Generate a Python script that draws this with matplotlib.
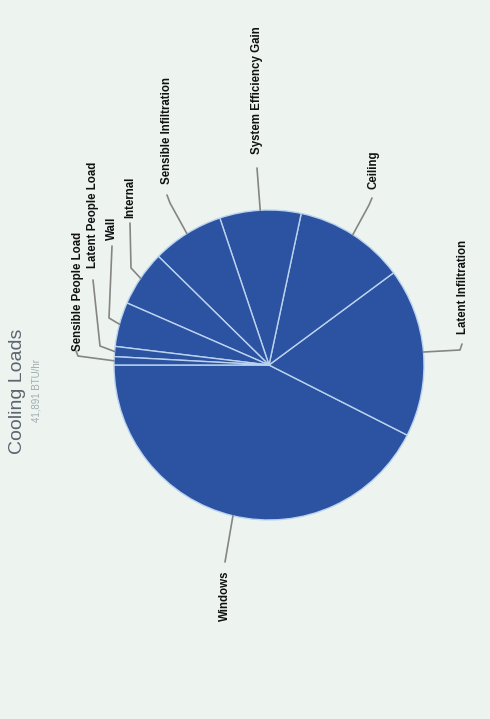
import matplotlib
matplotlib.use('Agg')
import matplotlib.pyplot as plt
from matplotlib import font_manager
import numpy as np

# ---- data ----
categories = ['Windows', 'Latent Infiltration', 'Ceiling', 'System Efficiency Gain',
              'Sensible Infiltration', 'Internal', 'Wall', 'Latent People Load',
              'Sensible People Load']
loads = [17815, 7378, 4829, 3549, 3142, 2432, 1943, 442, 361]
title = 'Cooling Loads'
subtitle = '41,891 BTU/hr'

# ---- layout (image pixel coords) ----
W, H = 490, 719
label_layout = {
    'Windows': ((225, 596), [(225, 562)]),
    'Latent Infiltration': ((463, 287), [(462, 344), (460, 350)]),
    'Ceiling': ((373, 170), [(372, 198), (369, 205)]),
    'System Efficiency Gain': ((257, 90), [(257, 168)]),
    'Sensible Infiltration': ((167, 131), [(167, 195), (170, 203)]),
    'Internal': ((130, 197), [(130, 223), (131, 268)]),
    'Wall': ((112, 228), [(112, 246), (109, 318)]),
    'Latent People Load': ((93, 215), [(93, 280), (100, 346)]),
    'Sensible People Load': ((78, 291), [(76, 351), (78, 356)]),
}

names = {f.name for f in font_manager.fontManager.ttflist}
label_font = 'Liberation Sans Narrow' if 'Liberation Sans Narrow' in names else 'Liberation Sans'


def P(x, y):
    return (x, H - y)


fig = plt.figure(figsize=(W / 100, H / 100), dpi=100)
fig.patch.set_facecolor('#edf4f0')
ax = fig.add_axes([0, 0, 1, 1])
ax.set_facecolor('#edf4f0')

cx, cy = P(269, 365)
R = 155
wedges, _ = ax.pie(loads, startangle=180, counterclock=True, center=(cx, cy), radius=R,
                   frame=True, colors=['#2b53a1'] * len(loads),
                   wedgeprops=dict(edgecolor='#bcd3f0', linewidth=1.0))
ax.set_xlim(0, W)
ax.set_ylim(0, H)
ax.set_aspect('auto')
ax.axis('off')

for w, name in zip(wedges, categories):
    mid = np.deg2rad((w.theta1 + w.theta2) / 2)
    ex, ey = cx + R * np.cos(mid), cy + R * np.sin(mid)
    (tx, ty), elbows = label_layout[name]
    pts = [P(*e) for e in elbows] + [(ex, ey)]
    xs, ys = zip(*pts)
    ax.plot(xs, ys, color='#858585', lw=1.2, solid_capstyle='round')
    ax.text(*P(tx, ty), name, rotation=90, ha='center', va='center',
            fontsize=8.3, fontweight='bold', family=label_font, color='#111111')

ax.text(*P(17, 391), title, rotation=90, ha='center', va='center',
        fontsize=14, family='Liberation Sans', color='#5d6670')
ax.text(*P(36, 391), subtitle, rotation=90, ha='center', va='center',
        fontsize=7, family='Liberation Sans', color='#a0acb0')

fig.savefig('out.png', dpi=100, facecolor=fig.get_facecolor())
